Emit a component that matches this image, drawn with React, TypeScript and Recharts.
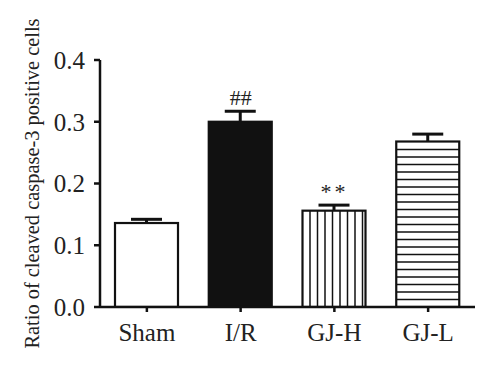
import React from 'react'
import { ComposedChart, Bar, XAxis, YAxis, Scatter } from 'recharts'

const categories = ['Sham', 'I/R', 'GJ-H', 'GJ-L']
const means = [0.136, 0.300, 0.156, 0.268]
const errors = [0.006, 0.017, 0.009, 0.012]
const marks = ['', '##', '**', '']
const fills = ['white', 'solid', 'vertical', 'horizontal']
const yTicks = [0, 0.1, 0.2, 0.3, 0.4]

const INK = '#111'
const FONT = '"Liberation Serif", "Times New Roman", serif'

const data = categories.map((name, i) => ({
  name,
  mean: means[i],
  err: errors[i],
  top: means[i] + errors[i],
  mark: marks[i],
  fill: fills[i],
}))

// bar with hatching and an upper-only error whisker
/* eslint-disable @typescript-eslint/no-explicit-any */
function HatchedBar(props: any) {
  const { x, y, width, height, payload } = props
  const step = 7.5
  const pxPerUnit = height / payload.mean
  const errTop = y - payload.err * pxPerUnit
  const cx = x + width / 2
  const lines: React.ReactNode[] = []
  if (payload.fill === 'vertical') {
    for (let lx = x + step; lx < x + width - 2; lx += step) {
      lines.push(<line key={lx} x1={lx} x2={lx} y1={y} y2={y + height} stroke={INK} strokeWidth={1.5} />)
    }
  }
  if (payload.fill === 'horizontal') {
    for (let ly = y + height - step; ly > y + 2; ly -= step) {
      lines.push(<line key={ly} x1={x} x2={x + width} y1={ly} y2={ly} stroke={INK} strokeWidth={1.5} />)
    }
  }
  return (
    <g>
      <line x1={cx} x2={cx} y1={y} y2={errTop} stroke={INK} strokeWidth={3} />
      <line x1={cx - 15.5} x2={cx + 15.5} y1={errTop} y2={errTop} stroke={INK} strokeWidth={3} />
      <rect x={x} y={y} width={width} height={height} fill={payload.fill === 'solid' ? INK : '#fff'} />
      {lines}
      <rect x={x} y={y} width={width} height={height} fill="none" stroke={INK} strokeWidth={2.2} />
    </g>
  )
}

function MarkText(props: any) {
  const { cx, cy, payload } = props
  if (!payload.mark) return <g />
  return (
    <text x={cx} y={cy - 6} textAnchor="middle" fontFamily={FONT} fontSize={22} fill="#222" letterSpacing={payload.mark === '**' ? 3 : 0}>
      {payload.mark}
    </text>
  )
}

function YLabel(props: any) {
  const { viewBox } = props
  const cx = viewBox.x + 32
  const cy = viewBox.y + viewBox.height / 2
  return (
    <text x={cx} y={cy} transform={`rotate(-90, ${cx}, ${cy})`} textAnchor="middle" dominantBaseline="central" fontFamily={FONT} fontSize={20.4} fill="#222">
      Ratio of cleaved caspase-3 positive cells
    </text>
  )
}
/* eslint-enable @typescript-eslint/no-explicit-any */

export default function App() {
  return (
    <div style={{ position: 'absolute', left: 0, top: 0, background: '#fff' }}>
      <ComposedChart width={500} height={373} data={data} margin={{ top: 60, right: 25, bottom: 0, left: 0 }}>
        <XAxis
          dataKey="name"
          height={66}
          axisLine={{ stroke: INK, strokeWidth: 2.5 }}
          tickLine={{ stroke: INK, strokeWidth: 2.5 }}
          tickSize={5}
          tickMargin={11}
          tick={{ fontFamily: FONT, fontSize: 25, fill: '#222' }}
        />
        <YAxis
          width={100}
          domain={[0, 0.4]}
          ticks={yTicks}
          allowDataOverflow
          tickFormatter={(v: number) => v.toFixed(1)}
          axisLine={{ stroke: INK, strokeWidth: 2.5 }}
          tickLine={{ stroke: INK, strokeWidth: 2.5 }}
          tickSize={6}
          tickMargin={9}
          tick={{ fontFamily: FONT, fontSize: 25, fill: '#222' }}
          label={<YLabel />}
        />
        <Bar dataKey="mean" barSize={63} shape={<HatchedBar />} isAnimationActive={false} />
        <Scatter dataKey="top" shape={<MarkText />} isAnimationActive={false} />
      </ComposedChart>
    </div>
  )
}
